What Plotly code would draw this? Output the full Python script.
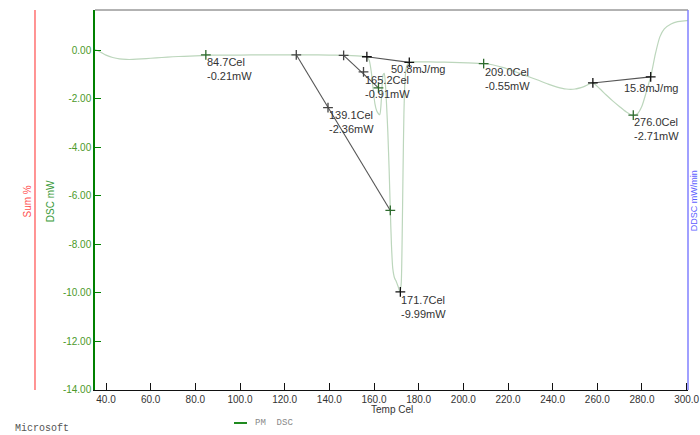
import plotly.graph_objects as go

# ---------------- data ----------------
temp = [35, 37, 40, 43, 46, 49, 52, 56, 60, 65, 70, 75, 80, 85, 90, 100, 110, 120, 130, 140,
        146, 150, 154, 156.5, 157.8, 158.8, 159.6, 160.4, 161.2, 162.0, 162.6, 163.1, 163.6,
        164.1, 164.6, 165.1, 165.6, 166.2, 166.8, 167.3, 167.8, 168.4, 169.2, 170.0, 170.8,
        171.7, 172.2, 172.6, 173.0, 173.4, 173.9, 174.5, 175.3, 176, 178, 182, 188, 195, 202,
        209, 213, 218, 223, 228, 233, 238, 242, 246, 250, 254, 258, 261, 264, 267, 270, 273,
        276, 278, 280, 282, 284, 286, 288, 290, 293, 296, 300, 300.6]
dsc = [0.03, -0.05, -0.2, -0.3, -0.36, -0.38, -0.38, -0.36, -0.33, -0.3, -0.27, -0.25, -0.23,
       -0.21, -0.2, -0.2, -0.19, -0.19, -0.19, -0.2,
       -0.21, -0.22, -0.24, -0.27, -0.4, -0.9, -1.6, -2.2, -2.5, -2.62, -2.66, -2.3, -1.5,
       -1.0, -0.95, -1.4, -2.2, -3.4, -5.0, -6.61, -8.0, -9.0, -9.4, -9.55, -9.75,
       -9.97, -9.6, -7.8, -5.0, -2.6, -1.2, -0.7, -0.53, -0.5, -0.48, -0.48, -0.49, -0.5, -0.52,
       -0.55, -0.6, -0.72, -0.88, -1.05, -1.22, -1.4, -1.52, -1.6, -1.6, -1.5, -1.35, -1.58,
       -1.85, -2.1, -2.33, -2.55, -2.7, -2.62, -2.3, -1.7, -1.05, -0.15, 0.55, 0.88, 1.08,
       1.18, 1.22, 1.23]

# analysis markers (+)
mark_t = [84.7, 125.2, 139.4, 167.3, 146.4, 155.3, 162.0, 156.8, 175.8, 171.8, 209.1, 258.0, 283.9, 276.1]
mark_mw = [-0.19, -0.19, -2.37, -6.61, -0.21, -0.89, -1.55, -0.27, -0.50, -9.97, -0.55, -1.35, -1.10, -2.68]
mark_col = ["#2e6b2e", "#444444", "#444444", "#2e6b2e", "#444444", "#444444", "#2e6b2e",
            "#111111", "#111111", "#111111", "#2e6b2e", "#111111", "#111111", "#2e6b2e"]

# tangent / baseline segments
seg_t = [[125.2, 167.3], [146.4, 162.0], [156.8, 175.8], [258.0, 283.9]]
seg_mw = [[-0.19, -6.61], [-0.21, -1.55], [-0.27, -0.50], [-1.35, -1.10]]

# result labels (anchored at a marker)
lab_t = [84.7, 139.4, 155.3, 175.8, 209.1, 283.9, 276.1, 171.8]
lab_mw = [-0.19, -2.37, -0.89, -0.50, -0.55, -1.10, -2.68, -9.97]
lab_text = ["84.7Cel<br>-0.21mW", "139.1Cel<br>-2.36mW", "165.2Cel<br>-0.91mW", "50.8mJ/mg",
            "209.0Cel<br>-0.55mW", "15.8mJ/mg", "276.0Cel<br>-2.71mW", "171.7Cel<br>-9.99mW"]
lab_dx = [0, 0, 0, -19, 0, -28, 0, 0]
lab_dy = [0, 0, -1, 0, -1, -4, 0, -1]

x_ticks = [40, 60, 80, 100, 120, 140, 160, 180, 200, 220, 240, 260, 280, 300]
y_ticks = [0, -2, -4, -6, -8, -10, -12, -14]

# ---------------- figure ----------------
fig = go.Figure()
fig.add_trace(go.Scatter(x=temp, y=dsc, mode="lines",
                         line=dict(color="#bcd6bc", width=1.2, shape="spline", smoothing=0.6),
                         hoverinfo="skip", showlegend=False))
for st, sm in zip(seg_t, seg_mw):
    fig.add_trace(go.Scatter(x=st, y=sm, mode="lines", line=dict(color="#555555", width=1.1),
                             showlegend=False, hoverinfo="skip"))
fig.add_trace(go.Scatter(x=mark_t, y=mark_mw, mode="markers",
                         marker=dict(symbol="cross-thin", size=7,
                                     line=dict(color=mark_col, width=1.3)),
                         showlegend=False, hoverinfo="skip"))

lab_font = dict(family="Liberation Sans, Arial", size=11, color="#333333")
for t, m, txt, dx, dy in zip(lab_t, lab_mw, lab_text, lab_dx, lab_dy):
    fig.add_annotation(x=t, y=m, xref="x", yref="y", text=txt, showarrow=False,
                       xanchor="left", yanchor="top", align="left",
                       xshift=dx, yshift=dy, font=lab_font, borderpad=0)

green = "#008000"
fig.update_xaxes(range=[35.07, 300.6], showline=True, linecolor="#111111", linewidth=1,
                 ticks="inside", ticklen=7, tickcolor="#111111", tickwidth=1,
                 tickvals=x_ticks, ticktext=[f"{v:.1f}" for v in x_ticks],
                 tickfont=dict(family="Liberation Sans, Arial", size=10, color="#333333"),
                 showgrid=False, zeroline=False, mirror=False, automargin=False)
fig.update_yaxes(range=[-14.02, 1.66], showline=True, linecolor=green, linewidth=1.5,
                 ticks="inside", ticklen=6, tickcolor=green, tickwidth=1.2,
                 tickvals=y_ticks, ticktext=[f"{v:.2f}" for v in y_ticks],
                 tickfont=dict(family="Liberation Sans, Arial", size=10, color="#4c9a2a"),
                 showgrid=False, zeroline=False, mirror=False, automargin=False)

shapes = [
    dict(type="line", xref="paper", yref="paper", x0=0, x1=1, y0=1, y1=1,
         line=dict(color="#666666", width=1)),
    dict(type="line", xref="paper", yref="paper", x0=1, x1=1, y0=0, y1=1,
         line=dict(color="#8080ff", width=1.5)),
    dict(type="line", xref="paper", yref="paper", x0=-0.1012, x1=-0.1012, y0=0, y1=1,
         line=dict(color="#ff7070", width=1.5)),
    dict(type="line", xref="paper", yref="paper", x0=0.2344, x1=0.2563, y0=-0.0868, y1=-0.0868,
         line=dict(color="#1f8a1f", width=2)),
]
fig.update_layout(shapes=shapes)

ax_font = "Liberation Sans, Arial"
def paper_text(x, y, text, font, angle=0, xanchor="center", xshift=0):
    fig.add_annotation(x=x, y=y, xref="paper", yref="paper", text=text, textangle=angle,
                       xanchor=xanchor, yanchor="middle", xshift=xshift,
                       showarrow=False, font=font, borderpad=0)

paper_text(-0.114, 0.497, "Sum %", dict(family=ax_font, size=10, color="#ff5050"), angle=-90)
paper_text(-0.0759, 0.497, "DSC mW", dict(family=ax_font, size=10, color="#3a9a3a"), angle=-90)
paper_text(1.0, 0.497, "DDSC mW/min", dict(family=ax_font, size=9, color="#6060ff"), angle=-90,
           xshift=6)
paper_text(0.5, -0.0505, "Temp Cel", dict(family=ax_font, size=10, color="#333333"))
paper_text(0.268, -0.0868, "PM  DSC",
           dict(family="Liberation Mono, Courier New", size=9, color="#888888"), xanchor="left")
paper_text(-0.1366, -0.102, "Microsoft",
           dict(family="Liberation Mono, Courier New", size=10, color="#555555"), xanchor="left")

fig.update_layout(width=700, height=435, margin=dict(l=95, r=12, t=10, b=45, autoexpand=False),
                  paper_bgcolor="white", plot_bgcolor="white", showlegend=False)

fig.write_html("out.html",
               config={"displayModeBar": False, "responsive": False},
               post_script="document.body.style.margin='0px';"
                           "document.body.style.overflow='hidden';"
                           "document.documentElement.style.overflow='hidden';")
